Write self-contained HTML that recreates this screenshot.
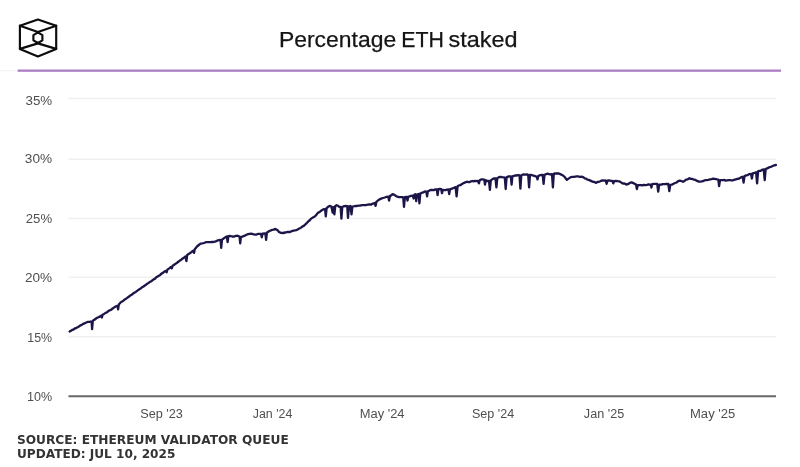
<!DOCTYPE html>
<html lang="en">
<head>
<meta charset="utf-8">
<title>Percentage ETH staked</title>
<style>
html,body{margin:0;padding:0;background:#fff;}
body{width:800px;height:467px;overflow:hidden;position:relative;font-family:"Liberation Sans",sans-serif;}
svg{position:absolute;left:0;top:0;display:block;}
.title{font-family:"Liberation Sans",sans-serif;font-size:22.7px;fill:#151515;stroke:#151515;stroke-width:0.25px;}
.yl{font-family:"Liberation Sans",sans-serif;font-size:12px;fill:#4f4f4f;}
.xl{font-family:"Liberation Sans",sans-serif;font-size:12px;fill:#4f4f4f;}
.src{font-family:"DejaVu Sans","Liberation Sans",sans-serif;font-weight:bold;font-size:11.8px;fill:#333;}
</style>
</head>
<body>
<svg width="800" height="467" viewBox="0 0 800 467">
<rect x="0" y="0" width="800" height="467" fill="#ffffff"/>

<!-- logo -->
<g fill="none" stroke="#0c0c0c" stroke-width="2.15" stroke-linejoin="round" stroke-linecap="round">
<polygon points="37.9,19.5 56.2,25.7 56.2,48.9 37.9,56.4 19.9,48.9 19.9,25.7"/>
<polyline points="19.9,25.7 37.9,32.0 56.2,25.7"/>
<polyline points="19.9,48.9 37.9,43.4 56.2,48.9"/>
<polygon points="37.9,32.4 42.4,35.1 42.4,40.3 37.9,43.0 33.4,40.3 33.4,35.1"/>
</g>
<!-- purple rule -->
<rect x="0" y="70.2" width="16" height="1" fill="#f3f0f5"/>
<rect x="17.6" y="69.5" width="763.4" height="2.3" fill="#aa7ec4"/>
<!-- grid -->
<rect x="68.5" y="97.75" width="707.5" height="1.5" fill="#f0f0f0"/>
<rect x="68.5" y="158.45" width="707.5" height="1.5" fill="#f0f0f0"/>
<rect x="68.5" y="217.75" width="707.5" height="1.5" fill="#f0f0f0"/>
<rect x="68.5" y="276.55" width="707.5" height="1.5" fill="#f0f0f0"/>
<rect x="68.5" y="336.00" width="707.5" height="1.5" fill="#f0f0f0"/>
<rect x="68.5" y="395.25" width="707.5" height="2" fill="#686868"/>
<!-- series -->
<polyline fill="none" stroke="#1b1548" stroke-width="2.3" stroke-linejoin="round" stroke-linecap="round" points="69.6,331.5 71.0,330.7 72.4,329.8 73.8,329.3 75.2,328.3 76.6,327.8 78.0,327.0 79.3,326.2 80.6,325.3 81.8,324.9 83.1,323.9 84.4,323.4 85.7,322.7 87.0,322.2 88.2,321.9 89.5,321.8 90.8,321.5 91.6,322.0 92.1,329.2 92.8,321.0 93.4,320.2 94.7,319.6 96.0,318.5 97.2,317.8 98.5,317.2 99.8,316.6 101.1,315.6 101.9,317.5 102.6,314.8 104.1,313.9 105.6,312.9 107.0,312.3 108.5,310.9 110.0,310.2 111.3,309.6 112.6,308.5 113.9,307.6 115.2,306.7 116.5,306.1 117.6,305.8 118.1,309.4 118.8,304.5 120.4,302.7 121.7,301.7 123.0,301.0 124.3,299.8 125.6,299.1 126.8,298.2 128.1,297.2 129.4,296.3 130.7,295.2 132.0,294.5 133.3,293.4 134.6,292.6 135.8,291.9 137.1,290.9 138.4,289.9 139.7,289.1 141.0,288.2 142.2,287.2 143.5,286.5 144.8,285.5 146.1,284.7 147.4,283.6 148.6,282.9 149.9,281.9 151.2,281.2 152.5,280.3 153.8,279.2 155.1,278.6 156.3,277.3 157.6,276.5 158.9,275.7 160.2,274.9 161.5,273.6 162.9,272.9 164.2,271.7 165.5,271.0 166.6,272.3 167.4,269.6 169.2,268.4 171.0,267.0 171.8,268.3 172.6,265.8 173.9,265.0 175.3,263.9 176.7,263.1 178.0,262.0 179.5,260.8 181.0,259.9 182.4,258.7 183.9,257.6 185.4,256.4 186.4,261.1 187.2,255.0 188.7,253.9 190.2,253.0 191.7,251.9 193.2,250.6 194.0,252.9 194.8,249.2 197.0,246.5 198.8,245.0 200.5,243.6 202.2,243.4 204.0,243.0 205.8,242.2 207.5,242.2 209.0,242.2 210.5,242.1 212.0,241.8 213.4,242.0 214.9,241.6 216.3,241.1 218.1,240.3 219.8,239.9 220.6,240.2 221.2,247.8 222.0,239.6 223.3,238.7 225.1,237.4 226.8,236.4 227.6,242.2 228.4,236.2 230.3,236.0 232.2,236.5 234.0,236.6 236.0,235.8 237.5,235.7 239.0,236.4 239.6,236.6 240.2,243.4 240.9,237.2 241.6,236.9 243.3,236.2 245.0,235.6 246.5,234.7 248.0,234.1 249.5,233.8 251.2,233.6 253.0,234.2 254.8,234.6 256.5,234.6 257.8,233.9 259.0,233.8 261.0,234.0 261.8,237.3 262.6,233.6 264.4,233.4 265.4,233.6 266.1,239.9 266.9,232.6 267.9,232.0 269.4,231.0 271.0,230.4 272.3,229.8 273.6,229.7 274.9,228.9 276.5,229.6 277.8,230.4 279.0,232.0 281.0,232.9 283.0,233.0 285.4,232.5 286.7,232.1 288.0,231.8 290.0,232.0 292.0,231.0 293.5,230.7 295.0,230.3 296.3,230.1 297.7,229.5 299.0,228.6 300.6,228.0 302.2,226.6 303.8,225.9 305.4,224.3 307.0,222.8 308.3,221.4 309.5,220.5 310.8,218.9 313.0,217.4 315.1,216.3 316.4,214.8 317.8,212.8 319.4,212.2 321.0,210.8 322.7,209.7 324.4,209.2 325.1,209.4 325.8,216.3 326.6,208.2 328.1,206.8 329.6,205.9 331.4,206.6 332.6,212.5 333.4,207.2 334.4,214.3 335.3,206.0 336.6,205.2 338.0,205.8 339.3,206.9 340.6,207.0 341.4,218.6 342.3,207.0 343.6,206.4 345.6,206.0 347.2,206.2 348.0,217.8 348.9,206.4 350.4,206.0 351.5,214.3 352.4,206.6 353.6,206.4 355.3,206.0 357.0,206.0 358.5,205.6 360.0,205.6 362.0,205.2 363.3,205.1 364.7,205.1 366.0,205.0 367.6,204.7 369.2,204.3 370.8,204.6 373.0,203.6 374.8,203.0 375.6,205.9 376.4,201.8 377.9,200.5 379.5,199.4 381.2,198.6 383.0,198.0 384.8,197.5 386.5,196.8 388.2,196.6 389.1,200.6 390.0,195.8 391.3,195.4 392.6,194.1 394.0,194.6 396.0,196.0 397.4,196.7 398.8,197.1 400.6,197.1 402.3,197.1 403.2,197.3 404.0,206.9 404.9,197.2 406.6,196.8 407.5,200.6 408.3,196.6 409.6,196.4 411.0,195.9 412.8,195.6 413.6,198.5 414.4,194.8 415.4,194.1 416.2,201.2 417.0,194.6 418.6,194.0 419.4,203.4 420.3,193.6 421.5,192.9 423.2,192.4 425.0,191.5 426.3,191.6 427.1,196.4 427.9,191.2 429.4,190.6 430.7,189.9 432.0,190.0 433.8,190.1 435.5,189.4 436.8,189.4 437.6,195.0 438.4,189.2 439.9,188.9 441.2,189.2 442.0,193.2 442.8,189.8 444.3,190.1 445.6,190.1 447.0,189.6 448.4,189.4 449.2,194.1 450.0,189.4 451.3,188.9 453.5,188.0 455.6,187.1 456.6,196.4 457.6,186.2 458.8,185.5 460.2,185.1 461.6,184.4 463.0,183.4 464.5,182.7 466.0,182.2 467.5,181.7 469.0,182.3 471.0,181.4 472.3,181.0 473.6,181.4 475.0,180.8 476.3,181.1 478.0,180.8 478.9,183.4 479.8,180.2 481.1,179.4 482.4,179.4 484.2,179.6 485.0,184.6 485.8,180.2 487.6,181.1 489.0,181.0 489.9,189.9 490.8,180.4 492.9,178.9 494.2,178.4 495.5,178.4 496.4,187.3 497.3,178.2 499.0,177.1 500.5,176.8 502.0,177.2 503.4,177.3 504.8,177.6 505.7,189.0 506.6,177.4 508.6,176.4 510.8,176.4 511.6,184.6 512.4,176.4 513.9,175.9 515.5,175.3 517.0,175.5 518.2,175.0 519.5,175.4 520.4,188.7 521.3,175.2 522.6,174.7 524.0,174.4 525.5,174.7 526.9,174.4 528.2,174.9 529.1,187.3 530.0,175.0 531.4,175.0 533.5,175.6 535.8,176.4 536.7,176.6 537.5,179.4 538.3,176.0 539.6,175.4 541.0,175.0 542.7,175.0 543.6,183.8 544.5,174.8 546.3,174.1 547.6,173.7 549.0,174.1 550.5,174.5 552.0,174.2 552.9,187.3 553.8,173.8 555.0,173.3 556.2,173.5 557.5,173.5 558.9,173.5 560.3,174.1 562.5,175.2 564.6,176.8 565.8,178.6 566.9,179.9 568.5,178.6 570.8,177.1 572.4,176.8 574.0,176.9 575.3,176.6 576.5,176.4 577.8,176.4 580.0,176.8 581.8,176.7 583.5,177.3 584.8,178.3 586.0,178.6 587.4,179.7 588.8,179.9 590.4,180.6 592.0,181.4 593.3,181.9 594.5,182.0 595.8,182.9 597.4,182.0 599.0,181.8 600.3,181.2 601.5,180.6 602.8,180.3 604.2,180.6 605.6,180.3 606.6,183.8 607.5,180.6 608.9,180.3 611.0,180.8 612.5,181.0 613.3,183.4 614.2,181.2 615.9,180.8 617.6,181.1 619.3,181.3 621.0,182.4 622.4,183.4 623.7,183.5 625.0,183.7 626.4,184.6 627.7,184.1 629.0,183.6 630.3,182.6 631.6,182.4 634.0,183.4 636.0,184.6 636.9,189.0 637.8,185.2 639.5,185.2 641.0,185.1 642.5,185.4 644.0,184.8 645.5,185.1 647.0,184.9 648.5,184.4 650.0,184.6 650.7,184.6 651.4,187.6 652.2,184.2 654.4,183.8 655.8,183.8 657.2,184.0 658.2,191.6 659.2,184.6 661.4,184.6 662.7,184.1 664.0,184.2 665.3,184.2 666.6,183.8 668.3,184.0 669.3,191.1 670.3,184.8 671.9,184.6 673.5,183.8 675.0,183.0 676.6,182.5 678.2,181.2 679.8,180.6 681.4,181.0 683.0,181.8 684.5,181.0 686.0,179.6 687.7,179.3 689.4,178.2 691.0,178.9 692.5,179.0 694.0,179.7 695.5,179.9 697.6,181.2 699.0,181.7 700.3,181.6 701.9,181.4 703.5,180.8 705.0,180.2 706.5,180.1 708.2,179.8 710.0,179.4 711.6,179.1 713.1,178.6 714.7,178.8 717.0,179.4 718.3,179.6 719.1,186.1 720.0,180.1 720.9,180.1 723.0,180.2 724.4,180.0 725.7,180.6 727.1,180.3 728.6,180.1 730.0,180.2 731.3,180.3 732.7,180.4 734.0,179.9 735.8,179.3 737.5,178.8 739.2,178.5 740.9,177.4 742.7,176.8 743.6,182.6 744.5,176.2 745.7,175.5 747.4,175.2 749.1,174.1 751.0,173.8 751.9,178.5 752.8,173.4 753.9,173.0 756.1,172.3 757.1,183.3 758.1,171.4 759.4,170.9 760.7,170.8 762.0,169.9 763.7,169.4 764.7,180.1 765.7,168.9 766.7,168.6 768.2,167.9 769.6,167.1 771.1,166.8 772.7,166.0 774.3,165.3 775.9,165.0"/>
<!-- text -->
<text class="title" y="46.50"><tspan x="278.98" textLength="117.18" lengthAdjust="spacingAndGlyphs">Percentage</tspan> <tspan x="401.22" textLength="42.57" lengthAdjust="spacingAndGlyphs">ETH</tspan> <tspan x="448.47" textLength="69.02" lengthAdjust="spacingAndGlyphs">staked</tspan></text>
<text class="yl" x="25.49" y="104.75" textLength="26.65" lengthAdjust="spacingAndGlyphs">35%</text>
<text class="yl" x="24.86" y="163.35" textLength="27.31" lengthAdjust="spacingAndGlyphs">30%</text>
<text class="yl" x="25.80" y="222.75" textLength="26.33" lengthAdjust="spacingAndGlyphs">25%</text>
<text class="yl" x="24.97" y="282.35" textLength="27.20" lengthAdjust="spacingAndGlyphs">20%</text>
<text class="yl" x="27.27" y="341.95" textLength="24.80" lengthAdjust="spacingAndGlyphs">15%</text>
<text class="yl" x="26.95" y="401.45" textLength="25.12" lengthAdjust="spacingAndGlyphs">10%</text>
<text class="xl" x="140.24" y="418.00" textLength="42.60" lengthAdjust="spacingAndGlyphs">Sep '23</text>
<text class="xl" x="252.77" y="418.00" textLength="39.57" lengthAdjust="spacingAndGlyphs">Jan '24</text>
<text class="xl" x="359.73" y="418.00" textLength="44.78" lengthAdjust="spacingAndGlyphs">May '24</text>
<text class="xl" x="471.95" y="418.00" textLength="42.19" lengthAdjust="spacingAndGlyphs">Sep '24</text>
<text class="xl" x="583.85" y="418.00" textLength="40.40" lengthAdjust="spacingAndGlyphs">Jan '25</text>
<text class="xl" x="690.01" y="418.00" textLength="45.30" lengthAdjust="spacingAndGlyphs">May '25</text>
<text class="src" x="16.97" y="444.30" textLength="271.75" lengthAdjust="spacingAndGlyphs">SOURCE: ETHEREUM VALIDATOR QUEUE</text>
<text class="src" x="16.97" y="458.00" textLength="158.43" lengthAdjust="spacingAndGlyphs">UPDATED: JUL 10, 2025</text>
</svg>
</body>
</html>
